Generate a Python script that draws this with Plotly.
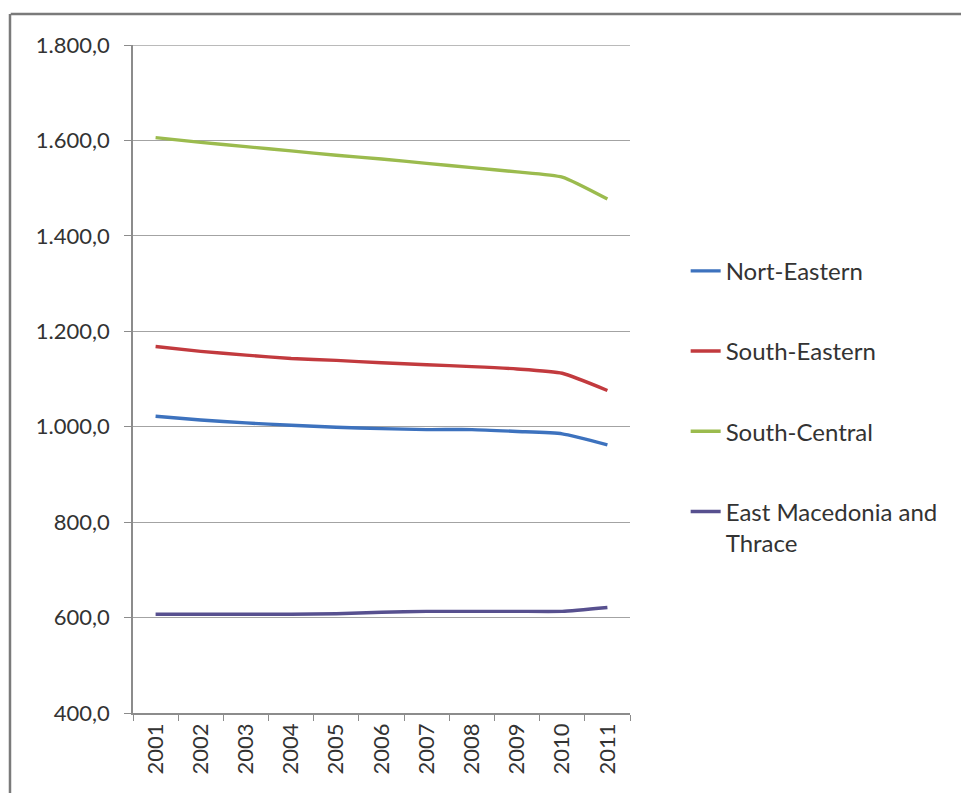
import plotly.graph_objects as go

# Years shown on the category axis
years = ["2001", "2002", "2003", "2004", "2005", "2006", "2007", "2008", "2009", "2010", "2011"]

# Regional series
nort_eastern = [1022, 1014, 1008, 1003, 999, 996, 994, 994, 990, 985, 962]
south_eastern = [1168, 1158, 1150, 1143, 1139, 1134, 1130, 1126, 1121, 1112, 1076]
south_central = [1606, 1596, 1587, 1578, 1569, 1561, 1552, 1543, 1534, 1523, 1477]
east_macedonia_thrace = [607, 607, 607, 607, 608, 611, 613, 613, 613, 613, 621]

series_names = ["Nort-Eastern", "South-Eastern", "South-Central", "East Macedonia and<br>Thrace"]
series_values = [nort_eastern, south_eastern, south_central, east_macedonia_thrace]
series_colors = ["#3D72BE", "#C23A3E", "#9BBB4E", "#57508F"]

# Value axis ticks, written with European separators
y_ticks = [400, 600, 800, 1000, 1200, 1400, 1600, 1800]
y_min, y_max = y_ticks[0], y_ticks[-1]


def euro_label(v):
    return f"{v:,.1f}".replace(",", "X").replace(".", ",").replace("X", ".")


y_tick_text = [euro_label(v) for v in y_ticks]

FONT = "Lato"
TEXT = "#333333"
GRID = "#a3a3a3"

fig = go.Figure()
for i, (name, vals, col) in enumerate(zip(series_names, series_values, series_colors)):
    fig.add_trace(go.Scatter(
        x=years, y=vals, name=name, mode="lines",
        line=dict(color=col, width=3.4, shape="spline", smoothing=0.5),
        legendgroup=f"g{i}",
    ))

fig.update_layout(
    width=961, height=793, autosize=False,
    margin=dict(l=133, r=331, t=45, b=80),
    paper_bgcolor="white", plot_bgcolor="white",
    font=dict(family=FONT, size=22, color=TEXT),
    showlegend=True,
    legend=dict(
        x=1.112, xanchor="left", y=0.695, yanchor="top",
        traceorder="grouped", tracegroupgap=46,
        valign="top",
        font=dict(family=FONT, size=24, color=TEXT),
        bgcolor="rgba(0,0,0,0)", itemwidth=30,
    ),
    xaxis=dict(
        type="category", tickangle=-90,
        showgrid=False, showline=True, linecolor="#8c8c8c", linewidth=1.5,
        ticks="outside", tickson="boundaries", ticklen=6, tickcolor="#8c8c8c",
        tickfont=dict(family=FONT, size=22, color=TEXT),
        range=[-0.5, 10.5], zeroline=False,
    ),
    yaxis=dict(
        range=[y_min, y_max], tickvals=y_ticks, ticktext=y_tick_text,
        showgrid=True, gridcolor=GRID, gridwidth=1.3,
        showline=True, linecolor="#8c8c8c", linewidth=1.5,
        ticks="outside", ticklen=7, tickcolor="#8c8c8c",
        ticklabelstandoff=10,
        tickfont=dict(family=FONT, size=22, color=TEXT),
        zeroline=False,
    ),
)

# Top gridline sits on the upper edge of the plot area
fig.add_shape(type="line", xref="paper", yref="y",
              x0=0, x1=1, y0=y_max, y1=y_max, layer="below",
              line=dict(color=GRID, width=1.3))

# Outer chart frame (top and left edges visible)
fig.add_shape(type="line", xref="paper", yref="paper",
              x0=-0.246, x1=1.7, y0=1.0464, y1=1.0464,
              line=dict(color="#7a7a7a", width=2.5))
fig.add_shape(type="line", xref="paper", yref="paper",
              x0=-0.2475, x1=-0.2475, y0=-0.2, y1=1.0464,
              line=dict(color="#7a7a7a", width=2.5))

fig.write_html("out.html")
